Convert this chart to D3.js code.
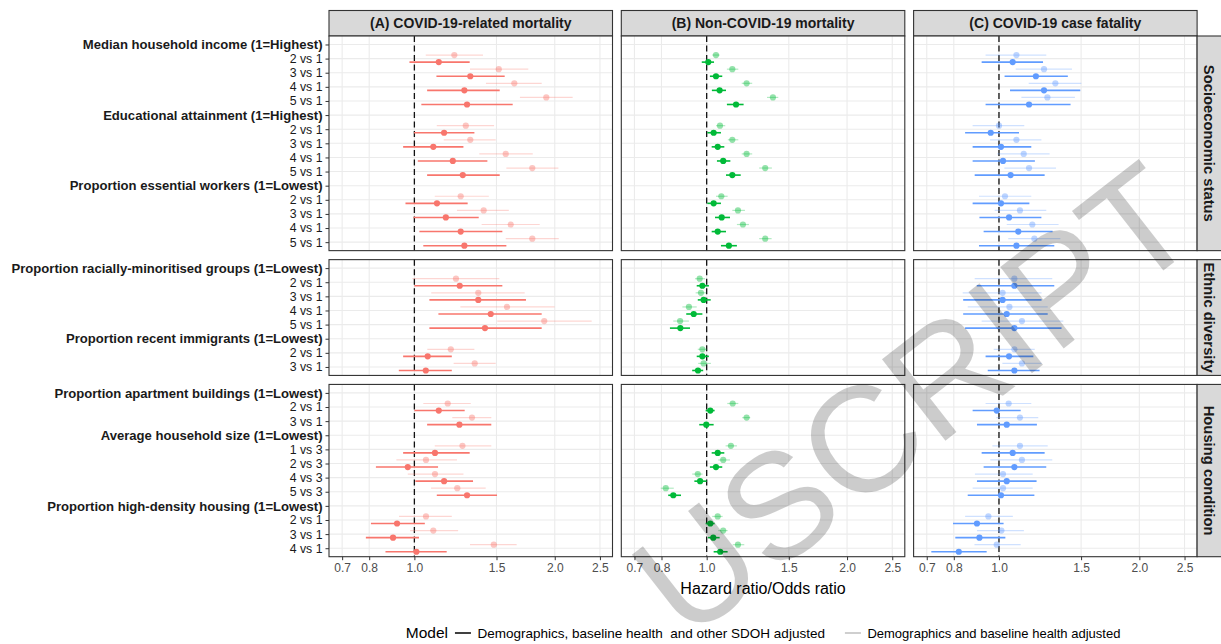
<!DOCTYPE html>
<html><head><meta charset="utf-8">
<script src="https://cdn.jsdelivr.net/npm/d3@7"></script>
<style>
body{margin:0;background:#fff}
svg{display:block}
text{font-family:"Liberation Sans",Arial,Helvetica,sans-serif}
</style>
</head><body>
<svg id="chart" width="1221" height="644"></svg>
<script>
// ---------- DATA ----------
const outcomes = ["(A) COVID-19-related mortality", "(B) Non-COVID-19 mortality", "(C) COVID-19 case fatality"];
const domains = ["Socioeconomic status", "Ethnic diversity", "Housing condition"];
const modelNames = ["Demographics, baseline health\u00a0 and other SDOH adjusted", "Demographics and baseline health adjusted"];
const xTicks = [0.7, 0.8, 1.0, 1.5, 2.0, 2.5];
const outcomeColors = ["#F8766D", "#00BA38", "#619CFF"];

const sesRows = ["Median household income (1=Highest)", "2 vs 1", "3 vs 1", "4 vs 1", "5 vs 1",
  "Educational attainment (1=Highest)", "2 vs 1", "3 vs 1", "4 vs 1", "5 vs 1",
  "Proportion essential workers (1=Lowest)", "2 vs 1", "3 vs 1", "4 vs 1", "5 vs 1"];
const ethRows = ["Proportion racially-minoritised groups (1=Lowest)", "2 vs 1", "3 vs 1", "4 vs 1", "5 vs 1",
  "Proportion recent immigrants (1=Lowest)", "2 vs 1", "3 vs 1"];
const houRows = ["Proportion apartment buildings (1=Lowest)", "2 vs 1", "3 vs 1",
  "Average household size (1=Lowest)", "1 vs 3", "2 vs 3", "4 vs 3", "5 vs 3",
  "Proportion high-density housing (1=Lowest)", "2 vs 1", "3 vs 1", "4 vs 1"];

// [estimate, lower, upper] for each non-header row, in row order
const covidAdj = [
  [1.128,0.976,1.314],[1.318,1.115,1.562],[1.280,1.065,1.524],[1.297,1.035,1.625],
  [1.158,0.998,1.345],[1.098,0.946,1.274],[1.209,1.017,1.434],[1.270,1.065,1.524],
  [1.118,0.957,1.301],[1.168,0.995,1.374],[1.257,1.025,1.544],[1.280,1.045,1.575],
  [1.251,1.000,1.544],[1.371,1.077,1.735],[1.458,1.126,1.875],[1.417,1.077,1.875],
  [1.068,0.946,1.203],[1.058,0.926,1.203],
  [1.128,1.000,1.282],[1.249,1.065,1.462],
  [1.107,0.946,1.314],[0.968,0.827,1.124],[1.158,1.005,1.336],[1.297,1.117,1.504],
  [0.918,0.807,1.053],[0.900,0.787,1.023],[1.010,0.867,1.173]];
const covidBase = [
  [1.218,1.058,1.403],[1.517,1.316,1.755],[1.638,1.424,1.875],[1.918,1.684,2.185],
  [1.289,1.117,1.482],[1.318,1.156,1.494],[1.570,1.378,1.794],[1.790,1.575,2.036],
  [1.257,1.106,1.444],[1.408,1.234,1.594],[1.609,1.394,1.857],[1.790,1.570,2.040],
  [1.228,0.990,1.521],[1.371,1.087,1.724],[1.580,1.255,1.998],[1.899,1.506,2.400],
  [1.197,1.066,1.345],[1.347,1.214,1.494],
  [1.179,1.045,1.321],[1.329,1.206,1.462],
  [1.268,1.106,1.462],[1.059,0.915,1.234],[1.107,0.968,1.274],[1.236,1.086,1.422],
  [1.059,0.927,1.203],[1.098,0.979,1.241],[1.480,1.316,1.657]];
const nonCovidAdj = [
  [1.008,0.976,1.037],[1.047,1.016,1.080],[1.066,1.026,1.100],[1.156,1.105,1.200],
  [1.035,1.003,1.073],[1.056,1.025,1.091],[1.085,1.052,1.124],[1.135,1.100,1.183],
  [1.035,1.003,1.073],[1.077,1.042,1.122],[1.056,1.025,1.100],[1.116,1.073,1.161],
  [0.979,0.952,1.011],[0.985,0.957,1.020],[0.938,0.904,0.979],[0.878,0.834,0.921],
  [0.979,0.952,1.011],[0.958,0.931,0.983],
  [1.018,0.995,1.040],[0.998,0.964,1.035],
  [1.056,1.025,1.091],[1.047,1.016,1.080],[0.968,0.941,1.000],[0.848,0.827,0.881],
  [1.018,0.995,1.040],[1.033,1.006,1.066],[1.069,1.035,1.109]];
const nonCovidBase = [
  [1.047,1.028,1.066],[1.135,1.105,1.169],[1.218,1.189,1.252],[1.387,1.347,1.424],
  [1.068,1.047,1.096],[1.135,1.110,1.169],[1.218,1.189,1.252],[1.335,1.296,1.380],
  [1.075,1.047,1.109],[1.167,1.135,1.208],[1.196,1.161,1.232],[1.335,1.296,1.378],
  [0.966,0.944,0.992],[0.972,0.947,0.998],[0.916,0.887,0.952],[0.877,0.848,0.916],
  [0.979,0.957,1.002],[0.985,0.959,1.021],
  [1.137,1.107,1.169],[1.218,1.192,1.240],
  [1.127,1.098,1.161],[1.085,1.059,1.122],[0.957,0.931,0.980],[0.817,0.797,0.850],
  [1.056,1.028,1.082],[1.085,1.059,1.109],[1.167,1.137,1.204]];
const cfrAdj = [
  [1.070,0.918,1.243],[1.200,1.028,1.405],[1.249,1.056,1.494],[1.160,0.936,1.424],
  [0.960,0.846,1.104],[1.010,0.878,1.173],[1.020,0.878,1.194],[1.059,0.887,1.253],
  [1.010,0.878,1.162],[1.051,0.908,1.233],[1.100,0.927,1.303],[1.090,0.906,1.314],
  [1.079,0.896,1.314],[1.018,0.838,1.234],[1.039,0.838,1.272],[1.079,0.846,1.362],
  [1.051,0.936,1.185],[1.079,0.946,1.222],
  [0.989,0.878,1.113],[1.039,0.897,1.206],
  [1.070,0.918,1.253],[1.079,0.927,1.263],[1.039,0.897,1.204],[1.010,0.857,1.191],
  [0.897,0.797,1.023],[0.908,0.806,1.032],[0.820,0.716,0.941]];
const cfrBase = [
  [1.090,0.936,1.263],[1.249,1.086,1.434],[1.321,1.158,1.502],[1.270,1.117,1.455],
  [1.000,0.878,1.133],[1.090,0.957,1.233],[1.130,0.992,1.284],[1.160,1.027,1.325],
  [1.030,0.906,1.173],[1.109,0.979,1.263],[1.179,1.039,1.342],[1.191,1.047,1.354],
  [1.079,0.887,1.301],[1.018,0.836,1.234],[1.053,0.857,1.272],[1.120,0.918,1.374],
  [1.079,0.974,1.193],[1.120,1.017,1.234],
  [1.049,0.936,1.173],[1.109,0.987,1.214],
  [1.109,0.968,1.272],[1.120,0.958,1.301],[1.020,0.888,1.181],[1.020,0.878,1.181],
  [0.949,0.846,1.071],[1.012,0.897,1.131],[0.989,0.886,1.113]];

const watermarkText = "USCRIPT";

// ---------- LAYOUT ----------
(function () {
const rowsByDomain = [sesRows, ethRows, houRows];
const seriesByOutcome = [[covidAdj, covidBase], [nonCovidAdj, nonCovidBase], [cfrAdj, cfrBase]];
const isHeader = l => l.indexOf("(1=") >= 0;

const svg = d3.select("#chart");
const leftX = 329, panelW = 283.5, gapX = 8.8;
const topY = 36, bottomY = 556.7, gapY = 9;
const stripTop = 10.5;
const units = rowsByDomain.map(r => r.length - 1 + 1.2);
const step = (bottomY - topY - gapY * (domains.length - 1)) / d3.sum(units);
const x = d3.scaleLog().domain([0.656, 2.66]).range([0, panelW]);

let yCursor = topY;
const panelsY = rowsByDomain.map((rows, i) => {
  const h = units[i] * step;
  const p = {y0: yCursor, h: h};
  yCursor += h + gapY;
  return p;
});

const dodge = step * 0.25;
const modelStyle = [
  {offset: dodge, lineOp: 1, ptOp: 1, lw: 1.6},
  {offset: -dodge, lineOp: 0.3, ptOp: 0.42, lw: 1.2}
];

outcomes.forEach((o, c) => {
  const px = leftX + c * (panelW + gapX);
  svg.append("rect").attr("x", px).attr("y", stripTop).attr("width", panelW).attr("height", topY - stripTop)
    .attr("fill", "#d9d9d9").attr("stroke", "#333").attr("stroke-width", 1.1);
  svg.append("text").attr("x", px + panelW / 2).attr("y", (stripTop + topY) / 2 + 5)
    .attr("text-anchor", "middle").attr("font-size", 14).attr("font-weight", "bold").attr("fill", "#1a1a1a").text(o);
});

let dataIndexStart = 0;
rowsByDomain.forEach((rows, d) => {
  const P = panelsY[d];
  const y = d3.scalePoint().domain(d3.range(rows.length)).range([P.y0, P.y0 + P.h]).padding(0.6);
  const idx = [];
  let k = dataIndexStart;
  rows.forEach((r, i) => { if (!isHeader(r)) { idx.push({row: i, k: k}); k++; } });
  dataIndexStart = k;

  outcomes.forEach((o, c) => {
    const px = leftX + c * (panelW + gapX);
    const g = svg.append("g").attr("transform", `translate(${px},0)`);
    g.append("rect").attr("x", 0).attr("y", P.y0).attr("width", panelW).attr("height", P.h).attr("fill", "#fff");
    g.selectAll(null).data(d3.range(rows.length)).join("line")
      .attr("x1", 0).attr("x2", panelW).attr("y1", i => y(i)).attr("y2", i => y(i))
      .attr("stroke", "#ebebeb").attr("stroke-width", 1.1);
    g.selectAll(null).data(xTicks).join("line")
      .attr("x1", v => x(v)).attr("x2", v => x(v)).attr("y1", P.y0).attr("y2", P.y0 + P.h)
      .attr("stroke", "#ebebeb").attr("stroke-width", 1.1);
    g.append("line").attr("x1", x(1)).attr("x2", x(1)).attr("y1", P.y0).attr("y2", P.y0 + P.h)
      .attr("stroke", "#111").attr("stroke-width", 1.3).attr("stroke-dasharray", "6,3.5");
    [1, 0].forEach(m => {
      const s = seriesByOutcome[c][m];
      const st = modelStyle[m];
      const col = outcomeColors[c];
      g.selectAll(null).data(idx).join("line")
        .attr("x1", e => x(s[e.k][1])).attr("x2", e => x(s[e.k][2]))
        .attr("y1", e => y(e.row) + st.offset).attr("y2", e => y(e.row) + st.offset)
        .attr("stroke", col).attr("stroke-opacity", st.lineOp).attr("stroke-width", st.lw);
      g.selectAll(null).data(idx).join("circle")
        .attr("cx", e => x(s[e.k][0])).attr("cy", e => y(e.row) + st.offset).attr("r", 3.1)
        .attr("fill", col).attr("fill-opacity", st.ptOp);
    });
    g.append("rect").attr("x", 0).attr("y", P.y0).attr("width", panelW).attr("height", P.h)
      .attr("fill", "none").attr("stroke", "#333").attr("stroke-width", 1.1);

    if (d === domains.length - 1) {
      const ax = g.append("g").attr("transform", `translate(0,${P.y0 + P.h})`)
        .call(d3.axisBottom(x).tickValues(xTicks).tickFormat(d3.format(".1f")).tickSize(3.5).tickPadding(3));
      ax.select(".domain").remove();
      ax.selectAll("line").attr("stroke", "#333");
      ax.selectAll("text").attr("font-size", 12).attr("fill", "#4d4d4d")
        .attr("font-family", '"Liberation Sans",Arial,sans-serif');
    }
  });

  const ay = svg.append("g").attr("transform", `translate(${leftX},0)`)
    .call(d3.axisLeft(y).tickFormat(i => rows[i]).tickSize(3.5).tickPadding(3));
  ay.select(".domain").remove();
  ay.selectAll("line").attr("stroke", "#333");
  ay.selectAll("text").attr("fill", "#1a1a1a")
    .attr("font-family", '"Liberation Sans",Arial,sans-serif')
    .attr("font-size", i => isHeader(rows[i]) ? 13.1 : 12.3)
    .attr("font-weight", i => isHeader(rows[i]) ? "bold" : "normal");

  const sx = leftX + 3 * panelW + 2 * gapX;
  svg.append("rect").attr("x", sx).attr("y", P.y0).attr("width", 26).attr("height", P.h)
    .attr("fill", "#d9d9d9").attr("stroke", "#333").attr("stroke-width", 1.1);
  svg.append("text").attr("transform", `translate(${sx + 12},${P.y0 + P.h / 2}) rotate(90)`)
    .attr("text-anchor", "middle").attr("dy", "0.35em").attr("font-size", 14.8).attr("font-weight", "bold")
    .attr("fill", "#1a1a1a").text(domains[d]);
});

const midX = leftX + (3 * panelW + 2 * gapX) / 2;
svg.append("text").attr("x", midX).attr("y", 594).attr("text-anchor", "middle")
  .attr("font-size", 16).attr("fill", "#000").text("Hazard ratio/Odds ratio");

const lg = svg.append("g");
const ly = 633;
const title = lg.append("text").attr("x", 0).attr("y", ly + 5).attr("font-size", 15.5).attr("fill", "#000").text("Model");
let cx = title.node().getComputedTextLength() + 7;
const legendSizes = [13.5, 13.0];
modelNames.forEach((mname, m) => {
  lg.append("line").attr("x1", cx).attr("x2", cx + 16).attr("y1", ly).attr("y2", ly)
    .attr("stroke", "#000").attr("stroke-opacity", m === 0 ? 1 : 0.25).attr("stroke-width", 1.5);
  cx += 22.5;
  const t = lg.append("text").attr("x", cx).attr("y", ly + 4.5).attr("font-size", legendSizes[m]).attr("fill", "#000")
    .text(mname);
  cx += t.node().getComputedTextLength() + 20;
});
const totalW = cx - 20;
lg.attr("transform", `translate(${midX - totalW / 2},0)`);

svg.append("text").attr("transform", "translate(1205,238) rotate(-38)")
  .attr("font-family", '"Liberation Serif","Times New Roman",serif').attr("font-size", 150)
  .attr("fill", "#000").attr("fill-opacity", 0.2).attr("text-anchor", "end").text(watermarkText);
})();
</script>
</body></html>
